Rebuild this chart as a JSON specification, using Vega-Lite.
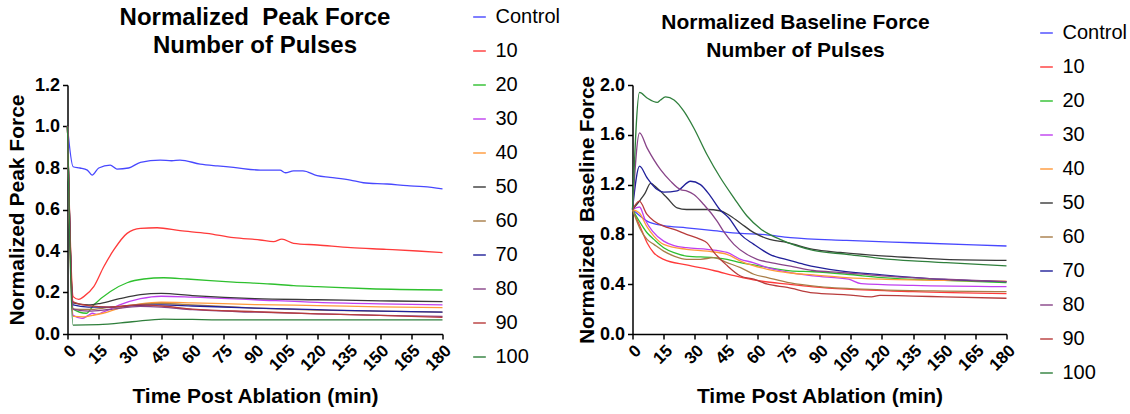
{
"$schema": "https://vega.github.io/schema/vega-lite/v6.json",
"background": "white",
"padding": {"left": 5.5, "top": 6, "right": 5, "bottom": 5},
"config": {
 "font": "Liberation Sans",
 "view": {"stroke": null},
 "axis": {"domainColor": "black", "domainWidth": 1.5, "tickColor": "black", "tickWidth": 1.5, "tickSize": 5, "labelFontSize": 18, "labelFontWeight": "bold", "labelColor": "black", "labelFont": "Liberation Sans", "titleFont": "Liberation Sans", "titleFontSize": 21, "titleFontWeight": "bold", "titleColor": "black", "grid": false, "labelPadding": 3, "labelOverlap": false},
 "legend": {"symbolType": "stroke", "symbolSize": 160, "symbolStrokeWidth": 2, "symbolOpacity": 0.7, "labelFontSize": 20, "labelFont": "Liberation Sans", "labelColor": "black", "rowPadding": 14, "labelOffset": 6, "labelLimit": 200},
 "title": {"fontWeight": "bold", "font": "Liberation Sans", "lineHeight": 28, "color": "black", "anchor": "middle"}
},
"datasets": {
"peak": [
{"s":"Control","t":0,"v":1.0},{"s":"Control","t":2.7,"v":0.806},{"s":"Control","t":6,"v":0.8},{"s":"Control","t":9.5,"v":0.79},{"s":"Control","t":11.8,"v":0.766},{"s":"Control","t":15,"v":0.8},{"s":"Control","t":20.5,"v":0.814},{"s":"Control","t":23.7,"v":0.795},{"s":"Control","t":29.3,"v":0.8},{"s":"Control","t":35,"v":0.827},{"s":"Control","t":44.5,"v":0.838},{"s":"Control","t":50,"v":0.835},{"s":"Control","t":54,"v":0.838},{"s":"Control","t":63.7,"v":0.819},{"s":"Control","t":72,"v":0.81},{"s":"Control","t":79.7,"v":0.803},{"s":"Control","t":92.5,"v":0.79},{"s":"Control","t":102,"v":0.79},{"s":"Control","t":104.6,"v":0.777},{"s":"Control","t":108.5,"v":0.786},{"s":"Control","t":113,"v":0.786},{"s":"Control","t":119.8,"v":0.763},{"s":"Control","t":126,"v":0.755},{"s":"Control","t":135.8,"v":0.742},{"s":"Control","t":142,"v":0.729},{"s":"Control","t":153.4,"v":0.723},{"s":"Control","t":163,"v":0.715},{"s":"Control","t":171,"v":0.71},{"s":"Control","t":180,"v":0.699},
{"s":"10","t":0,"v":1.0},{"s":"10","t":2.7,"v":0.18},{"s":"10","t":5.4,"v":0.167},{"s":"10","t":7.8,"v":0.18},{"s":"10","t":12.6,"v":0.228},{"s":"10","t":17.4,"v":0.324},{"s":"10","t":22.2,"v":0.405},{"s":"10","t":28.6,"v":0.485},{"s":"10","t":35,"v":0.509},{"s":"10","t":43,"v":0.512},{"s":"10","t":54,"v":0.498},{"s":"10","t":66.9,"v":0.485},{"s":"10","t":79.7,"v":0.464},{"s":"10","t":92.5,"v":0.453},{"s":"10","t":98.9,"v":0.445},{"s":"10","t":102.9,"v":0.457},{"s":"10","t":108.5,"v":0.437},{"s":"10","t":120,"v":0.429},{"s":"10","t":136,"v":0.416},{"s":"10","t":153,"v":0.408},{"s":"10","t":168,"v":0.4},{"s":"10","t":180,"v":0.392},
{"s":"20","t":0,"v":1.0},{"s":"20","t":2.7,"v":0.12},{"s":"20","t":9,"v":0.1},{"s":"20","t":12.6,"v":0.14},{"s":"20","t":20.6,"v":0.205},{"s":"20","t":28.6,"v":0.247},{"s":"20","t":36.6,"v":0.265},{"s":"20","t":46.2,"v":0.271},{"s":"20","t":57.4,"v":0.265},{"s":"20","t":79.7,"v":0.25},{"s":"20","t":97.4,"v":0.241},{"s":"20","t":108.5,"v":0.233},{"s":"20","t":120,"v":0.228},{"s":"20","t":145,"v":0.218},{"s":"20","t":180,"v":0.212},
{"s":"30","t":0,"v":1.0},{"s":"30","t":2.7,"v":0.09},{"s":"30","t":7,"v":0.075},{"s":"30","t":10,"v":0.09},{"s":"30","t":12,"v":0.1},{"s":"30","t":14,"v":0.095},{"s":"30","t":17,"v":0.105},{"s":"30","t":25,"v":0.14},{"s":"30","t":35,"v":0.17},{"s":"30","t":45,"v":0.182},{"s":"30","t":60,"v":0.178},{"s":"30","t":90,"v":0.165},{"s":"30","t":120,"v":0.152},{"s":"30","t":150,"v":0.145},{"s":"30","t":180,"v":0.14},
{"s":"40","t":0,"v":1.0},{"s":"40","t":2.7,"v":0.085},{"s":"40","t":8,"v":0.083},{"s":"40","t":12,"v":0.09},{"s":"40","t":17,"v":0.1},{"s":"40","t":25,"v":0.125},{"s":"40","t":35,"v":0.145},{"s":"40","t":45,"v":0.153},{"s":"40","t":60,"v":0.15},{"s":"40","t":90,"v":0.142},{"s":"40","t":120,"v":0.137},{"s":"40","t":150,"v":0.131},{"s":"40","t":180,"v":0.127},
{"s":"50","t":0,"v":1.0},{"s":"50","t":2.7,"v":0.15},{"s":"50","t":10,"v":0.14},{"s":"50","t":16,"v":0.148},{"s":"50","t":25,"v":0.17},{"s":"50","t":35,"v":0.19},{"s":"50","t":45,"v":0.196},{"s":"50","t":60,"v":0.185},{"s":"50","t":90,"v":0.17},{"s":"50","t":120,"v":0.165},{"s":"50","t":150,"v":0.16},{"s":"50","t":180,"v":0.156},
{"s":"60","t":0,"v":1.0},{"s":"60","t":2.7,"v":0.12},{"s":"60","t":10,"v":0.118},{"s":"60","t":20,"v":0.128},{"s":"60","t":35,"v":0.143},{"s":"60","t":45,"v":0.147},{"s":"60","t":60,"v":0.14},{"s":"60","t":90,"v":0.125},{"s":"60","t":120,"v":0.115},{"s":"60","t":150,"v":0.11},{"s":"60","t":180,"v":0.105},
{"s":"70","t":0,"v":1.0},{"s":"70","t":2.7,"v":0.14},{"s":"70","t":10,"v":0.13},{"s":"70","t":20,"v":0.13},{"s":"70","t":35,"v":0.138},{"s":"70","t":45,"v":0.14},{"s":"70","t":60,"v":0.135},{"s":"70","t":90,"v":0.125},{"s":"70","t":120,"v":0.117},{"s":"70","t":150,"v":0.11},{"s":"70","t":180,"v":0.105},
{"s":"80","t":0,"v":1.0},{"s":"80","t":2.7,"v":0.12},{"s":"80","t":10,"v":0.11},{"s":"80","t":20,"v":0.118},{"s":"80","t":35,"v":0.133},{"s":"80","t":45,"v":0.13},{"s":"80","t":60,"v":0.117},{"s":"80","t":90,"v":0.105},{"s":"80","t":120,"v":0.097},{"s":"80","t":150,"v":0.09},{"s":"80","t":180,"v":0.085},
{"s":"90","t":0,"v":1.0},{"s":"90","t":2.7,"v":0.155},{"s":"90","t":10,"v":0.137},{"s":"90","t":20,"v":0.13},{"s":"90","t":35,"v":0.14},{"s":"90","t":45,"v":0.135},{"s":"90","t":60,"v":0.12},{"s":"90","t":90,"v":0.108},{"s":"90","t":120,"v":0.097},{"s":"90","t":150,"v":0.09},{"s":"90","t":180,"v":0.08},
{"s":"100","t":0,"v":1.0},{"s":"100","t":2.7,"v":0.043},{"s":"100","t":15,"v":0.045},{"s":"100","t":31,"v":0.059},{"s":"100","t":46,"v":0.072},{"s":"100","t":60,"v":0.07},{"s":"100","t":80,"v":0.068},{"s":"100","t":120,"v":0.068},{"s":"100","t":180,"v":0.068}
],
"base": [
{"s":"Control","t":0,"v":1.0},{"s":"Control","t":3.5,"v":0.95},{"s":"Control","t":7,"v":0.907},{"s":"Control","t":15,"v":0.87},{"s":"Control","t":26,"v":0.853},{"s":"Control","t":39,"v":0.83},{"s":"Control","t":52,"v":0.808},{"s":"Control","t":62,"v":0.8},{"s":"Control","t":76,"v":0.774},{"s":"Control","t":103,"v":0.752},{"s":"Control","t":135,"v":0.733},{"s":"Control","t":180,"v":0.707},
{"s":"10","t":0,"v":1.0},{"s":"10","t":3.9,"v":0.854},{"s":"10","t":7,"v":0.733},{"s":"10","t":10.2,"v":0.653},{"s":"10","t":15,"v":0.6},{"s":"10","t":26,"v":0.555},{"s":"10","t":39,"v":0.51},{"s":"10","t":50,"v":0.465},{"s":"10","t":60,"v":0.43},{"s":"10","t":75,"v":0.4},{"s":"10","t":87,"v":0.379},{"s":"10","t":103,"v":0.36},{"s":"10","t":135,"v":0.34},{"s":"10","t":180,"v":0.325},
{"s":"20","t":0,"v":1.0},{"s":"20","t":3.5,"v":0.9},{"s":"20","t":7,"v":0.813},{"s":"20","t":10.3,"v":0.76},{"s":"20","t":15,"v":0.693},{"s":"20","t":20,"v":0.653},{"s":"20","t":26,"v":0.626},{"s":"20","t":39,"v":0.613},{"s":"20","t":45.5,"v":0.6},{"s":"20","t":52,"v":0.573},{"s":"20","t":60,"v":0.55},{"s":"20","t":76,"v":0.507},{"s":"20","t":87,"v":0.5},{"s":"20","t":103,"v":0.48},{"s":"20","t":120,"v":0.453},{"s":"20","t":150,"v":0.43},{"s":"20","t":180,"v":0.413},
{"s":"30","t":0,"v":1.0},{"s":"30","t":3.4,"v":1.02},{"s":"30","t":6,"v":0.92},{"s":"30","t":9.6,"v":0.826},{"s":"30","t":15,"v":0.746},{"s":"30","t":20,"v":0.71},{"s":"30","t":26,"v":0.693},{"s":"30","t":36,"v":0.68},{"s":"30","t":45.5,"v":0.655},{"s":"30","t":52,"v":0.6},{"s":"30","t":58,"v":0.574},{"s":"30","t":65,"v":0.533},{"s":"30","t":76,"v":0.493},{"s":"30","t":87,"v":0.467},{"s":"30","t":104,"v":0.44},{"s":"30","t":110,"v":0.405},{"s":"30","t":135,"v":0.391},{"s":"30","t":180,"v":0.381},
{"s":"40","t":0,"v":1.0},{"s":"40","t":3.4,"v":0.97},{"s":"40","t":7,"v":0.86},{"s":"40","t":10.3,"v":0.786},{"s":"40","t":15,"v":0.72},{"s":"40","t":26,"v":0.68},{"s":"40","t":36,"v":0.665},{"s":"40","t":45.5,"v":0.64},{"s":"40","t":52,"v":0.586},{"s":"40","t":65,"v":0.52},{"s":"40","t":76,"v":0.49},{"s":"40","t":87,"v":0.475},{"s":"40","t":103,"v":0.453},{"s":"40","t":120,"v":0.44},{"s":"40","t":150,"v":0.43},{"s":"40","t":180,"v":0.425},
{"s":"50","t":0,"v":1.0},{"s":"50","t":3.9,"v":1.08},{"s":"50","t":6,"v":1.13},{"s":"50","t":8.7,"v":1.21},{"s":"50","t":11.9,"v":1.17},{"s":"50","t":16.7,"v":1.093},{"s":"50","t":21.5,"v":1.013},{"s":"50","t":26,"v":1.0},{"s":"50","t":36,"v":1.0},{"s":"50","t":42,"v":0.99},{"s":"50","t":46,"v":0.96},{"s":"50","t":52,"v":0.89},{"s":"50","t":58.4,"v":0.814},{"s":"50","t":66,"v":0.76},{"s":"50","t":74.5,"v":0.734},{"s":"50","t":87,"v":0.68},{"s":"50","t":100,"v":0.655},{"s":"50","t":120,"v":0.627},{"s":"50","t":135,"v":0.613},{"s":"50","t":150,"v":0.6},{"s":"50","t":180,"v":0.592},
{"s":"60","t":0,"v":1.0},{"s":"60","t":3.5,"v":0.85},{"s":"60","t":7,"v":0.76},{"s":"60","t":10.3,"v":0.72},{"s":"60","t":15,"v":0.666},{"s":"60","t":20,"v":0.626},{"s":"60","t":26,"v":0.6},{"s":"60","t":32.7,"v":0.6},{"s":"60","t":39,"v":0.613},{"s":"60","t":45.5,"v":0.573},{"s":"60","t":52,"v":0.533},{"s":"60","t":58.4,"v":0.48},{"s":"60","t":65,"v":0.453},{"s":"60","t":76,"v":0.41},{"s":"60","t":90,"v":0.38},{"s":"60","t":120,"v":0.355},{"s":"60","t":150,"v":0.345},{"s":"60","t":180,"v":0.34},
{"s":"70","t":0,"v":1.0},{"s":"70","t":3.4,"v":1.348},{"s":"70","t":7,"v":1.255},{"s":"70","t":11.9,"v":1.16},{"s":"70","t":15,"v":1.14},{"s":"70","t":21.5,"v":1.15},{"s":"70","t":27.9,"v":1.227},{"s":"70","t":32.7,"v":1.2},{"s":"70","t":37.5,"v":1.107},{"s":"70","t":42,"v":1.0},{"s":"70","t":46.3,"v":0.934},{"s":"70","t":52,"v":0.8},{"s":"70","t":58.4,"v":0.72},{"s":"70","t":66,"v":0.64},{"s":"70","t":76,"v":0.59},{"s":"70","t":82.5,"v":0.56},{"s":"70","t":100,"v":0.507},{"s":"70","t":120,"v":0.475},{"s":"70","t":143,"v":0.445},{"s":"70","t":180,"v":0.421},
{"s":"80","t":0,"v":1.0},{"s":"80","t":3.4,"v":1.615},{"s":"80","t":7,"v":1.495},{"s":"80","t":13.5,"v":1.32},{"s":"80","t":18.3,"v":1.228},{"s":"80","t":23.1,"v":1.16},{"s":"80","t":26.3,"v":1.148},{"s":"80","t":29.5,"v":1.12},{"s":"80","t":34.3,"v":1.04},{"s":"80","t":40.7,"v":0.907},{"s":"80","t":44,"v":0.82},{"s":"80","t":48.8,"v":0.72},{"s":"80","t":55,"v":0.64},{"s":"80","t":60,"v":0.6},{"s":"80","t":66,"v":0.575},{"s":"80","t":76,"v":0.545},{"s":"80","t":87,"v":0.51},{"s":"80","t":100,"v":0.494},{"s":"80","t":120,"v":0.467},{"s":"80","t":150,"v":0.44},{"s":"80","t":180,"v":0.421},
{"s":"90","t":0,"v":1.0},{"s":"90","t":3.3,"v":1.067},{"s":"90","t":7,"v":0.96},{"s":"90","t":10.3,"v":0.907},{"s":"90","t":15,"v":0.867},{"s":"90","t":20,"v":0.84},{"s":"90","t":26,"v":0.8},{"s":"90","t":32.7,"v":0.76},{"s":"90","t":36,"v":0.73},{"s":"90","t":39,"v":0.66},{"s":"90","t":45.5,"v":0.55},{"s":"90","t":52,"v":0.466},{"s":"90","t":58.4,"v":0.44},{"s":"90","t":65,"v":0.4},{"s":"90","t":74.5,"v":0.374},{"s":"90","t":87,"v":0.33},{"s":"90","t":103,"v":0.315},{"s":"90","t":115,"v":0.298},{"s":"90","t":119,"v":0.31},{"s":"90","t":135,"v":0.305},{"s":"90","t":150,"v":0.298},{"s":"90","t":180,"v":0.287},
{"s":"100","t":0,"v":1.0},{"s":"100","t":3.4,"v":1.94},{"s":"100","t":7,"v":1.896},{"s":"100","t":11.9,"v":1.86},{"s":"100","t":13.5,"v":1.88},{"s":"100","t":15.9,"v":1.904},{"s":"100","t":20,"v":1.88},{"s":"100","t":24.7,"v":1.79},{"s":"100","t":29.5,"v":1.655},{"s":"100","t":35.9,"v":1.44},{"s":"100","t":42.3,"v":1.255},{"s":"100","t":48.8,"v":1.094},{"s":"100","t":55,"v":0.95},{"s":"100","t":62,"v":0.84},{"s":"100","t":71,"v":0.76},{"s":"100","t":87,"v":0.672},{"s":"100","t":103,"v":0.64},{"s":"100","t":119,"v":0.608},{"s":"100","t":135,"v":0.587},{"s":"100","t":151,"v":0.573},{"s":"100","t":180,"v":0.547}
]
},
"spacing": 190,
"bounds": "flush",
"resolve": {"scale": {"color": "independent"}, "legend": {"color": "independent"}},
"hconcat": [
{
 "width": 375, "height": 249,
 "title": {"text": ["Normalized\u00a0 Peak Force", "Number of Pulses"], "fontSize": 24, "offset": -51},
 "data": {"name": "peak"},
 "mark": {"type": "line", "interpolate": "monotone", "strokeWidth": 1.3},
 "encoding": {
  "x": {"field": "t", "type": "quantitative", "scale": {"domain": [0, 180], "nice": false}, "axis": {"values": [0,15,30,45,60,75,90,105,120,135,150,165,180], "labelAngle": -45, "labelFontSize": 17, "title": "Time Post Ablation (min)", "titlePadding": 12}},
  "y": {"field": "v", "type": "quantitative", "scale": {"domain": [0, 1.2], "nice": false}, "axis": {"values": [0,0.2,0.4,0.6,0.8,1.0,1.2], "format": ".1f", "title": "Normalized Peak Force", "titleFontSize": 21, "titlePadding": 7}},
  "color": {"field": "s", "type": "nominal", "scale": {"domain": ["Control","10","20","30","40","50","60","70","80","90","100"], "range": ["#4848ff","#ff3a3a","#2ec02e","#c040f0","#ff9a3a","#3a3a3a","#a87d48","#20209a","#884488","#b83c3c","#2f7f3c"]}, "legend": {"title": null, "orient": "none", "legendX": 402, "legendY": -78}}
 }
},
{
 "width": 374, "height": 249,
 "title": {"text": ["Normalized Baseline Force", "Number of Pulses"], "fontSize": 21, "offset": -38, "dx": -24},
 "data": {"name": "base"},
 "mark": {"type": "line", "interpolate": "monotone", "strokeWidth": 1.3},
 "encoding": {
  "x": {"field": "t", "type": "quantitative", "scale": {"domain": [0, 180], "nice": false}, "axis": {"values": [0,15,30,45,60,75,90,105,120,135,150,165,180], "labelAngle": -45, "labelFontSize": 17, "title": "Time Post Ablation (min)", "titlePadding": 12}},
  "y": {"field": "v", "type": "quantitative", "scale": {"domain": [0, 2.0], "nice": false}, "axis": {"values": [0,0.4,0.8,1.2,1.6,2.0], "format": ".1f", "title": "Normalized\u00a0 Baseline Force", "titleFontSize": 20.5, "titlePadding": 2}},
  "color": {"field": "s", "type": "nominal", "scale": {"domain": ["Control","10","20","30","40","50","60","70","80","90","100"], "range": ["#4848ff","#ff3a3a","#2ec02e","#c040f0","#ff9a3a","#3a3a3a","#a87d48","#20209a","#884488","#b83c3c","#2f7f3c"]}, "legend": {"title": null, "orient": "none", "legendX": 404, "legendY": -62}}
 }
}
]
}
